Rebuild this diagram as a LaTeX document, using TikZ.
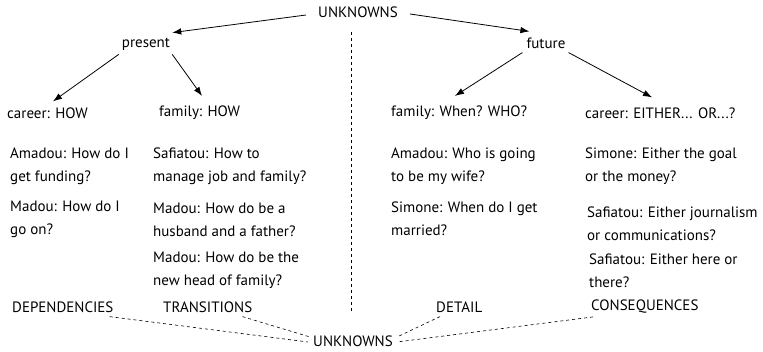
\documentclass[tikz,border=0pt]{standalone}
\usepackage{fontspec}
\setmainfont{PT Sans}
\usetikzlibrary{arrows.meta,positioning}

\begin{document}
\begin{tikzpicture}[x=1pt,y=-1pt,
		txt/.style={inner sep=0pt, align=left, anchor=west, font=\fontsize{15}{23}\selectfont},
		arr/.style={-{Latex[length=9pt,width=6.5pt]}, line width=0.8pt},
		link/.style={dashed, line width=0.6pt}]
		\useasboundingbox (0,0) rectangle (763,352);
		% top of the tree
		\node[txt, anchor=center] (top) at (358,12) {UNKNOWNS};
		\node[txt, anchor=center] (present) at (146,44) {present};
		\node[txt, anchor=center] (future) at (546,43) {future};
		\node[txt] (pcareer) at (7,113) {career: HOW};
		\node[txt] (pfamily) at (159,113) {family: HOW};
		\node[txt] (ffamily) at (391,113) {family: When? WHO?};
		\node[txt] (fcareer) at (585,113) {career: EITHER... OR...?};
		% questions, present side
		\node[txt] (amadouA) at (10,166) {Amadou: How do I\\get funding?};
		\node[txt] (madouA) at (10,219) {Madou: How do I\\go on?};
		\node[txt] (safiatouA) at (153,166) {Safiatou: How to\\manage job and family?};
		\node[txt] (madouB) at (153,220) {Madou: How do be a\\husband and a father?};
		\node[txt] (madouC) at (153,270) {Madou: How do be the\\new head of family?};
		% questions, future side
		\node[txt] (amadouB) at (391,166) {Amadou: Who is going\\to be my wife?};
		\node[txt] (simoneA) at (391,219) {Simone: When do I get\\married?};
		\node[txt] (simoneB) at (585,166) {Simone: Either the goal\\or the money?};
		\node[txt] (safiatouB) at (587,224) {Safiatou: Either journalism\\or communications?};
		\node[txt] (safiatouC) at (589,271) {Safiatou: Either here or\\there?};
		% bottom labels
		\node[txt] (dep) at (12,307) {DEPENDENCIES};
		\node[txt] (trans) at (163,307) {TRANSITIONS};
		\node[txt] (detail) at (436,307) {DETAIL};
		\node[txt] (conseq) at (591,307) {CONSEQUENCES};
		\node[txt, anchor=center] (bottom) at (353,341) {UNKNOWNS};
		% arrows
		\draw[arr] ([xshift=-12pt,yshift=-3pt]top.west) -- ([xshift=2pt,yshift=5pt]present.north east);
		\draw[arr] ([xshift=12pt,yshift=-2pt]top.east) -- ([xshift=3pt,yshift=6pt]future.north west);
		\draw[arr] ([xshift=-3pt,yshift=-4pt]present.south west) -- ([xshift=46pt,yshift=6pt]pcareer.north west);
		\draw[arr] ([xshift=2pt,yshift=-4pt]present.south east) -- ([xshift=43pt,yshift=10pt]pfamily.north west);
		\draw[arr] ([xshift=-4pt,yshift=-4pt]future.south west) -- ([xshift=64pt,yshift=10pt]ffamily.north west);
		\draw[arr] ([xshift=3pt,yshift=-4pt]future.south east) -- ([xshift=67pt,yshift=10pt]fcareer.north west);
		% divider
		\draw[link] (351,32) -- (351,313);
		% dashed links
		\draw[link] ([xshift=-4pt,yshift=-4pt]dep.south east) -- ([xshift=-5pt,yshift=-1pt]bottom.west);
		\draw[link] ([xshift=-10pt,yshift=-4pt]trans.south east) -- ([xshift=-3pt,yshift=4pt]bottom.west);
		\draw[link] ([xshift=4pt,yshift=-4pt]detail.south west) -- ([xshift=4pt,yshift=4pt]bottom.east);
		\draw[link] ([xshift=2pt,yshift=-3pt]conseq.south west) -- ([xshift=4pt,yshift=-1pt]bottom.east);
\end{tikzpicture}
\end{document}
